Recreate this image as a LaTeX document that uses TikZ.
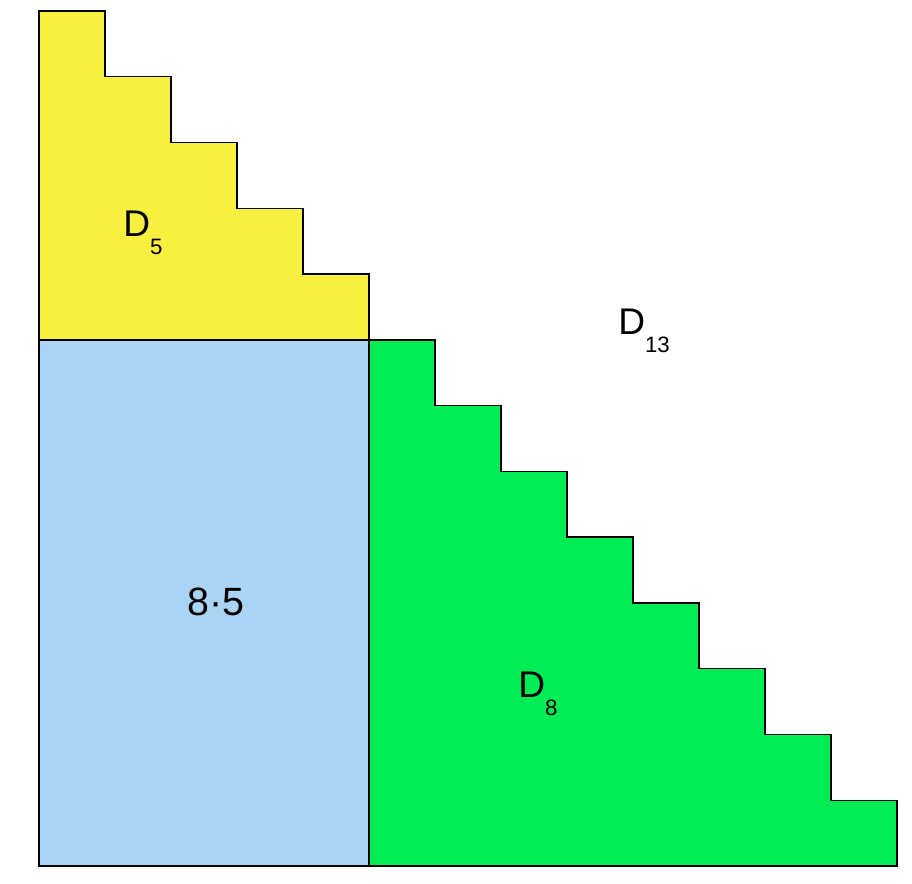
\documentclass[tikz,border=0pt]{standalone}
\usepackage{fontspec}
\setmainfont{Liberation Sans}
\definecolor{stairyellow}{RGB}{248,240,64}
\definecolor{rectblue}{RGB}{170,212,244}
\definecolor{stairgreen}{RGB}{0,236,84}
\newcommand{\dsub}[1]{D\raisebox{-7.8pt}{\fontsize{9.6}{10}\selectfont #1}}
\begin{document}
\begin{tikzpicture}[x=1.0cm, y=0.9965cm, line width=0.6pt,
    region/.style={draw=black, line join=miter},
    lbl/.style={font=\fontsize{16}{18}\selectfont, inner sep=0pt}]
    \useasboundingbox (-0.591,-0.2585) rectangle (13.227,13.167);
    % 1. 蓝色矩形 8x5
    \fill[rectblue] (0,0) rectangle (5,8);
    \draw[region] (0,0) rectangle (5,8);
    
    % 2. 黄色阶梯 D5
    \filldraw[region, fill=stairyellow] (0,8) -- (0,13) -- (1,13) -- (1,12) -- (2,12) -- (2,11)
        -- (3,11) -- (3,10) -- (4,10) -- (4,9) -- (5,9) -- (5,8) -- cycle;
    
    % 3. 绿色阶梯 D8
    \filldraw[region, fill=stairgreen] (5,0) -- (5,8) -- (6,8) -- (6,7) -- (7,7) -- (7,6)
        -- (8,6) -- (8,5) -- (9,5) -- (9,4) -- (10,4) -- (10,3) -- (11,3) -- (11,2)
        -- (12,2) -- (12,1) -- (13,1) -- (13,0) -- cycle;
    
    % 4. 标签
    \node[lbl] (dfive) at (1.576,9.62) {\dsub{5}};
    \node[lbl] (dthirteen) at (9.167,8.14) {\dsub{13}};
    \node[lbl, font=\fontsize{17}{19}\selectfont] (prod) at (2.68,4.01) {8·5};
    \node[lbl] (deight) at (7.56,2.615) {\dsub{8}};
\end{tikzpicture}
\end{document}
